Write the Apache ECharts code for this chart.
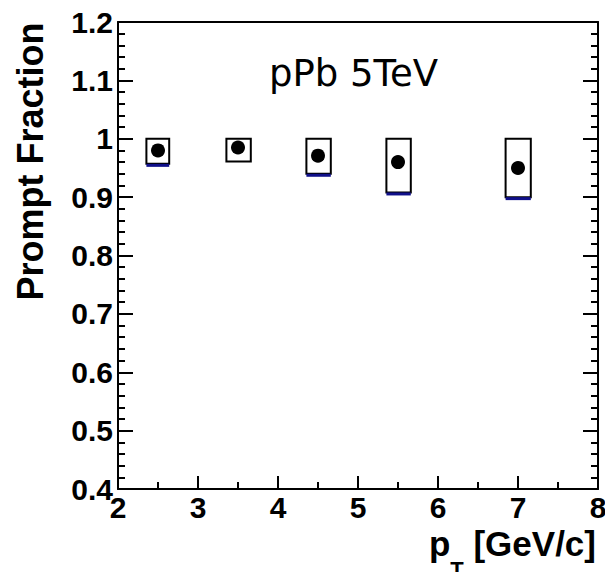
<!DOCTYPE html>
<html>
<head>
<meta charset="utf-8">
<script src="https://cdn.jsdelivr.net/npm/echarts@6/dist/echarts.min.js"></script>
<style>html,body{margin:0;padding:0;background:#fff}#c{width:605px;height:572px}</style>
</head>
<body>
<div id="c"></div>
<script>
// data
var ptCenters = [2.5, 3.5, 4.5, 5.5, 7.0];
var promptFraction = [0.980, 0.985, 0.971, 0.960, 0.950];
var boxXLow = [2.355, 3.355, 4.355, 5.355, 6.845];
var boxXHigh = [2.64, 3.66, 4.66, 5.66, 7.16];
var boxYLow = [0.957, 0.961, 0.940, 0.908, 0.900];
var boxYHigh = [1.0, 1.0, 1.0, 1.0, 1.0];
var blueEdge = [0.957, null, 0.940, 0.908, 0.900];
var xTicks = [2, 3, 4, 5, 6, 7, 8];
var yTicks = [0.4, 0.5, 0.6, 0.7, 0.8, 0.9, 1, 1.1, 1.2];

var pointData = ptCenters.map(function (x, i) { return [x, promptFraction[i]]; });
var boxData = ptCenters.map(function (x, i) {
  return [boxXLow[i], boxXHigh[i], boxYLow[i], boxYHigh[i], blueEdge[i] == null ? NaN : blueEdge[i]];
});

function ls() { return { color: '#000', width: 2, opacity: 1 }; }
var chart = echarts.init(document.getElementById('c'), null, { renderer: 'svg' });
var boldFont = 'Liberation Sans, Arial, sans-serif';
var labelFont = { fontFamily: boldFont, fontWeight: 'bold', fontSize: 30, color: '#000' };

chart.setOption({
  animation: false,
  grid: { left: 118, right: 7, top: 22, bottom: 83, outerBoundsMode: 'none', containLabel: false },
  xAxis: [{
    type: 'value', min: xTicks[0], max: xTicks[xTicks.length - 1], interval: 1,
    name: '{a|p}{s|T}{a| [GeV/c]}', nameLocation: 'end', nameGap: -2,
    nameTextStyle: {
      align: 'right', verticalAlign: 'top', padding: [37, 0, 0, 0],
      rich: {
        a: { fontFamily: boldFont, fontWeight: 'bold', fontSize: 35, color: '#000', lineHeight: 35, verticalAlign: 'top' },
        s: { fontFamily: boldFont, fontWeight: 'bold', fontSize: 22, color: '#000', lineHeight: 22, verticalAlign: 'top', padding: [32, 0, 0, 0] }
      }
    },
    axisLine: { show: true, onZero: false, lineStyle: ls() },
    axisTick: { show: true, inside: true, length: 13, lineStyle: ls() },
    minorTick: { show: true, splitNumber: 2, length: 7, lineStyle: ls() },
    splitLine: { show: false },
    axisLabel: Object.assign({ margin: 3, showMinLabel: true, showMaxLabel: true }, labelFont)
  }, {
    type: 'value', min: 2, max: 8, interval: 1, position: 'top',
    name: 'pPb 5TeV', nameLocation: 'middle', nameGap: -70,
    nameTextStyle: { fontFamily: 'DejaVu Sans, sans-serif', fontWeight: 'normal', fontSize: 37, color: '#000', lineHeight: 37, padding: [0, 9, 0, 0] },
    axisLine: { show: true, onZero: false, lineStyle: ls() },
    axisTick: { show: false }, axisLabel: { show: false }, splitLine: { show: false }
  }],
  yAxis: [{
    type: 'value', min: yTicks[0], max: yTicks[yTicks.length - 1], interval: 0.1,
    name: 'Prompt Fraction', nameLocation: 'middle', nameGap: 70,
    nameTextStyle: { fontFamily: boldFont, fontWeight: 'bold', fontSize: 36, color: '#000', lineHeight: 36, padding: [0, 0, 0, 188] },
    axisLine: { show: true, onZero: false, lineStyle: ls() },
    axisTick: { show: true, inside: true, length: 15, lineStyle: ls() },
    minorTick: { show: true, splitNumber: 5, length: 7, lineStyle: ls() },
    splitLine: { show: false },
    axisLabel: Object.assign({ margin: 5, showMinLabel: true, showMaxLabel: true }, labelFont)
  }, {
    type: 'value', min: 0.4, max: 1.2, interval: 0.1, position: 'right',
    axisLine: { show: true, onZero: false, lineStyle: ls() },
    axisTick: { show: true, inside: true, length: 15, lineStyle: ls() },
    minorTick: { show: true, splitNumber: 5, length: 7, lineStyle: ls() },
    splitLine: { show: false }, axisLabel: { show: false }
  }],
  series: [{
    type: 'custom',
    data: boxData,
    z: 2,
    renderItem: function (params, api) {
      var p1 = api.coord([api.value(0), api.value(3)]);
      var p2 = api.coord([api.value(1), api.value(2)]);
      var children = [{
        type: 'rect',
        shape: { x: p1[0], y: p1[1], width: p2[0] - p1[0], height: p2[1] - p1[1] },
        style: { fill: 'none', stroke: '#000', lineWidth: 2 }
      }];
      var be = api.value(4);
      if (!isNaN(be)) {
        var b = api.coord([api.value(0), be]);
        children.push({
          type: 'line',
          shape: { x1: p1[0], y1: b[1] + 1.5, x2: p2[0], y2: b[1] + 1.5 },
          style: { stroke: '#10108a', lineWidth: 3 }
        });
      }
      return { type: 'group', children: children };
    }
  }, {
    type: 'scatter',
    data: pointData,
    symbol: 'circle',
    symbolSize: 14,
    itemStyle: { color: '#000', opacity: 1 },
    z: 3
  }]
});
</script>
</body>
</html>
